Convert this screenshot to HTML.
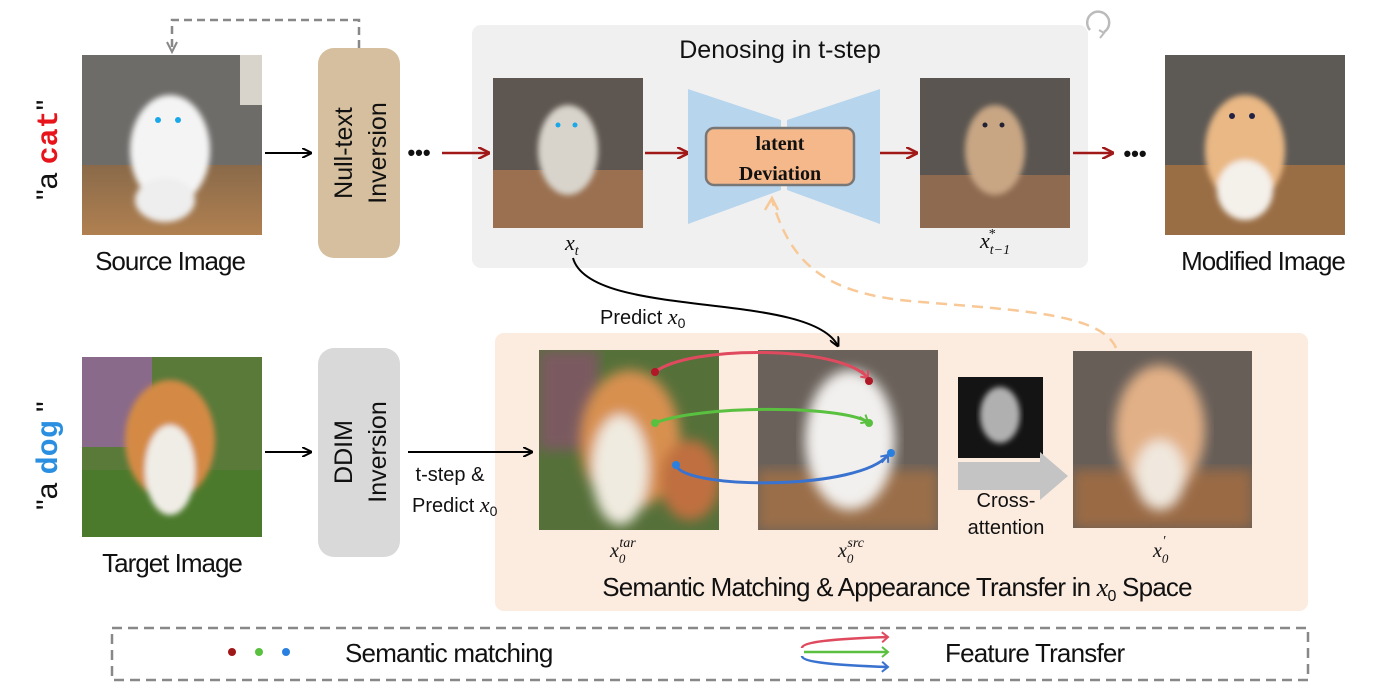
<!DOCTYPE html>
<html><head><meta charset="utf-8"><style>
html,body{margin:0;padding:0;background:#fff;}
svg{display:block;font-family:"Liberation Sans",sans-serif;}
</style></head><body>
<svg width="1381" height="695" viewBox="0 0 1381 695" xmlns="http://www.w3.org/2000/svg">
<defs>
<marker id="ab" markerWidth="10" markerHeight="10" refX="9" refY="5" orient="auto" markerUnits="userSpaceOnUse"><path d="M0,0 L10,5 L0,10" fill="none" stroke="#000" stroke-width="2"/></marker>
<marker id="ar" markerWidth="12" markerHeight="12" refX="11" refY="6" orient="auto" markerUnits="userSpaceOnUse"><path d="M0,0 L12,6 L0,12" fill="none" stroke="#a01818" stroke-width="2.5"/></marker>
<marker id="af" markerWidth="12" markerHeight="12" refX="10" refY="6" orient="auto" markerUnits="userSpaceOnUse"><path d="M0,6 L10,6 M4,1 L10,6 L4,11" fill="none" stroke="context-stroke" stroke-width="2"/></marker>
<filter id="bl"><feGaussianBlur stdDeviation="6"/></filter>
<filter id="bl2"><feGaussianBlur stdDeviation="3"/></filter>
<linearGradient id="floor" x1="0" y1="0" x2="0" y2="1"><stop offset="0" stop-color="#8a6a4a"/><stop offset="1" stop-color="#b08050"/></linearGradient>
<clipPath id="c1"><rect x="82" y="55" width="180" height="180"/></clipPath>
<clipPath id="c2"><rect x="493" y="78" width="150" height="150"/></clipPath>
<clipPath id="c3"><rect x="920" y="78" width="150" height="150"/></clipPath>
<clipPath id="c4"><rect x="1165" y="55" width="180" height="180"/></clipPath>
<clipPath id="c5"><rect x="82" y="357" width="180" height="180"/></clipPath>
<clipPath id="c6"><rect x="539" y="350" width="180" height="180"/></clipPath>
<clipPath id="c7"><rect x="758" y="350" width="180" height="180"/></clipPath>
<clipPath id="c8"><rect x="1073" y="351" width="179" height="177"/></clipPath>
</defs>

<rect x="472" y="25" width="616" height="243" rx="9" fill="#f0f0f0"/>
<text x="780" y="58" font-size="25" text-anchor="middle" fill="#111">Denosing in t-step</text>
<path d="M1090,30 A11,11 0 1 1 1104,32" fill="none" stroke="#bbb" stroke-width="2.5"/>
<path d="M1099,30 L1104,33 L1100,38" fill="none" stroke="#bbb" stroke-width="2"/>

<rect x="495" y="333" width="813" height="278" rx="9" fill="#fcebdf"/>

<text transform="translate(57,200) rotate(-90)" font-size="30" fill="#111">"a <tspan fill="#e8141c" font-weight="bold" font-family="Liberation Mono,monospace">cat</tspan>"</text>
<text transform="translate(57,510) rotate(-90)" font-size="30" fill="#111">"a <tspan fill="#2a8fe0" font-weight="bold" font-family="Liberation Mono,monospace">dog</tspan> "</text>

<g clip-path="url(#c1)">
<rect x="82" y="55" width="180" height="180" fill="#6e6c69"/>
<rect x="82" y="165" width="180" height="70" fill="url(#floor)"/>
<rect x="240" y="55" width="22" height="50" fill="#d8d4cc"/>
<g filter="url(#bl2)"><ellipse cx="170" cy="150" rx="40" ry="55" fill="#f4f4f4"/><ellipse cx="165" cy="200" rx="30" ry="22" fill="#eee"/></g>
<circle cx="158" cy="120" r="3" fill="#1aa8e8"/><circle cx="178" cy="120" r="3" fill="#1aa8e8"/>
</g>
<text x="170" y="270" font-size="26" text-anchor="middle" fill="#111" letter-spacing="-1">Source Image</text>

<line x1="265" y1="153" x2="311" y2="153" stroke="#000" stroke-width="2" marker-end="url(#ab)"/>
<rect x="318" y="48" width="82" height="210" rx="16" fill="#d6bf9e"/>
<text transform="translate(352,153) rotate(-90)" font-size="25" text-anchor="middle" fill="#111">Null-text</text>
<text transform="translate(386,153) rotate(-90)" font-size="25" text-anchor="middle" fill="#111">Inversion</text>
<path d="M359,48 L359,20 L172,20 L172,50" fill="none" stroke="#888" stroke-width="2.5" stroke-dasharray="8,5"/>
<path d="M167,42 L172,52 L177,42" fill="none" stroke="#888" stroke-width="2"/>
<text x="419" y="160" font-size="22" text-anchor="middle" fill="#111" font-weight="bold">•••</text>
<line x1="442" y1="153" x2="489" y2="153" stroke="#a01818" stroke-width="2.5" marker-end="url(#ar)"/>

<g clip-path="url(#c2)">
<rect x="493" y="78" width="150" height="150" fill="#5e5650"/>
<rect x="493" y="170" width="150" height="58" fill="#9a7050"/>
<g filter="url(#bl2)"><ellipse cx="568" cy="150" rx="30" ry="45" fill="#d8d4cc"/></g>
<circle cx="558" cy="125" r="2.5" fill="#1aa8e8"/><circle cx="575" cy="125" r="2.5" fill="#1aa8e8"/>
</g>
<text x="565" y="250" font-size="22" font-style="italic" font-family="Liberation Serif,serif" fill="#111">x<tspan font-size="14" dy="5">t</tspan></text>

<line x1="645" y1="153" x2="688" y2="153" stroke="#a01818" stroke-width="2.5" marker-end="url(#ar)"/>
<polygon points="688,89 781,120 781,190 688,224" fill="#b8d5ee"/>
<polygon points="787,120 880,89 880,224 787,190" fill="#b8d5ee"/>
<rect x="706" y="128" width="148" height="57" rx="8" fill="#f5b88a" stroke="#777" stroke-width="2.5"/>
<text x="780" y="150" font-size="20" font-weight="bold" text-anchor="middle" font-family="Liberation Serif,serif" fill="#111">latent</text>
<text x="780" y="180" font-size="20" font-weight="bold" text-anchor="middle" font-family="Liberation Serif,serif" fill="#111">Deviation</text>
<line x1="880" y1="153" x2="917" y2="153" stroke="#a01818" stroke-width="2.5" marker-end="url(#ar)"/>

<g clip-path="url(#c3)">
<rect x="920" y="78" width="150" height="150" fill="#5a5550"/>
<rect x="920" y="175" width="150" height="53" fill="#8e6a50"/>
<g filter="url(#bl2)"><ellipse cx="995" cy="150" rx="30" ry="45" fill="#c8a684"/></g>
<circle cx="985" cy="125" r="2.5" fill="#223"/><circle cx="1002" cy="125" r="2.5" fill="#223"/>
</g>
<text x="980" y="248" font-size="22" font-style="italic" font-family="Liberation Serif,serif" fill="#111">x<tspan font-size="14" dy="6">t−1</tspan><tspan font-size="14" dx="-22" dy="-16">*</tspan></text>

<line x1="1073" y1="153" x2="1113" y2="153" stroke="#a01818" stroke-width="2.5" marker-end="url(#ar)"/>
<text x="1135" y="161" font-size="22" text-anchor="middle" fill="#111" font-weight="bold">•••</text>

<g clip-path="url(#c4)">
<rect x="1165" y="55" width="180" height="180" fill="#5d5955"/>
<rect x="1165" y="165" width="180" height="70" fill="#9a6e45"/>
<g filter="url(#bl2)"><ellipse cx="1245" cy="150" rx="40" ry="55" fill="#e9b884"/><ellipse cx="1245" cy="190" rx="28" ry="30" fill="#f4f0ea"/></g>
<circle cx="1232" cy="116" r="3" fill="#224"/><circle cx="1252" cy="116" r="3" fill="#224"/>
</g>
<text x="1263" y="270" font-size="26" text-anchor="middle" fill="#111" letter-spacing="-1">Modified Image</text>

<path d="M573,258 C590,320 810,290 838,346" fill="none" stroke="#000" stroke-width="2" marker-end="url(#ab)"/>
<text x="600" y="324" font-size="20" fill="#111">Predict <tspan font-style="italic" font-family="Liberation Serif,serif" font-size="22">x</tspan><tspan font-size="14" dy="4">0</tspan></text>
<path d="M1116,348 C1100,310 1000,310 900,300 C820,290 790,260 772,200" fill="none" stroke="#f8c896" stroke-width="2.5" stroke-dasharray="11,7"/>
<path d="M765,210 L772,198 L778,210" fill="none" stroke="#f8c896" stroke-width="2.5"/>

<g clip-path="url(#c5)">
<rect x="82" y="357" width="180" height="180" fill="#5a7a3a"/>
<rect x="82" y="357" width="70" height="90" fill="#8a6a8a"/>
<rect x="82" y="470" width="180" height="67" fill="#4c7a2c"/>
<g filter="url(#bl2)"><ellipse cx="170" cy="440" rx="45" ry="60" fill="#d48a44"/><ellipse cx="170" cy="470" rx="25" ry="45" fill="#f0ede6"/></g>
</g>
<text x="172" y="572" font-size="26" text-anchor="middle" fill="#111" letter-spacing="-1">Target Image</text>
<line x1="265" y1="452" x2="311" y2="452" stroke="#000" stroke-width="2" marker-end="url(#ab)"/>
<rect x="318" y="348" width="82" height="209" rx="16" fill="#d9d9d9"/>
<text transform="translate(352,452) rotate(-90)" font-size="25" text-anchor="middle" fill="#111">DDIM</text>
<text transform="translate(386,452) rotate(-90)" font-size="25" text-anchor="middle" fill="#111">Inversion</text>
<line x1="408" y1="452" x2="532" y2="452" stroke="#000" stroke-width="2" marker-end="url(#ab)"/>
<text x="450" y="481" font-size="20" text-anchor="middle" fill="#111">t-step &amp;</text>
<text x="412" y="512" font-size="20" fill="#111">Predict <tspan font-style="italic" font-family="Liberation Serif,serif" font-size="22">x</tspan><tspan font-size="14" dy="4">0</tspan></text>

<g clip-path="url(#c6)">
<rect x="539" y="350" width="180" height="180" fill="#56703a"/>
<rect x="539" y="350" width="60" height="100" fill="#7a5a60" filter="url(#bl)"/>
<g filter="url(#bl)"><ellipse cx="630" cy="440" rx="50" ry="70" fill="#d89050"/><ellipse cx="620" cy="470" rx="28" ry="55" fill="#f0ebe0"/><ellipse cx="690" cy="480" rx="30" ry="40" fill="#c07040"/></g>
</g>
<text x="610" y="557" font-size="20" font-style="italic" font-family="Liberation Serif,serif" fill="#111">x<tspan font-size="13" dy="6">0</tspan><tspan font-size="14" dx="-6" dy="-16">tar</tspan></text>
<g clip-path="url(#c7)">
<rect x="758" y="350" width="180" height="180" fill="#6a615a"/>
<rect x="758" y="470" width="180" height="60" fill="#9a6e48" filter="url(#bl)"/>
<g filter="url(#bl)"><ellipse cx="850" cy="440" rx="45" ry="70" fill="#f2f0ee"/></g>
</g>
<text x="838" y="557" font-size="20" font-style="italic" font-family="Liberation Serif,serif" fill="#111">x<tspan font-size="13" dy="6">0</tspan><tspan font-size="14" dx="-6" dy="-16">src</tspan></text>

<path d="M655,372 C690,345 840,345 868,378" fill="none" stroke="#e04a5e" stroke-width="3" marker-end="url(#af)"/>
<path d="M655,423 C700,405 840,405 868,422" fill="none" stroke="#5ac040" stroke-width="3" marker-end="url(#af)"/>
<path d="M676,466 C690,490 860,490 888,455" fill="none" stroke="#3a72d0" stroke-width="3" marker-end="url(#af)"/>
<circle cx="655" cy="372" r="4" fill="#b01828"/><circle cx="869" cy="381" r="4" fill="#b01828"/>
<circle cx="655" cy="423" r="4" fill="#5ac040"/><circle cx="869" cy="423" r="4" fill="#5ac040"/>
<circle cx="676" cy="465" r="4" fill="#2a80e0"/><circle cx="891" cy="453" r="4" fill="#2a80e0"/>

<rect x="958" y="377" width="85" height="81" fill="#141414"/>
<ellipse cx="1000" cy="415" rx="20" ry="28" fill="#b0b0b0" filter="url(#bl2)"/>
<polygon points="958,462 1040,462 1040,452 1068,476 1040,500 1040,490 958,490" fill="#c4c4c4"/>
<text x="1006" y="507" font-size="20" text-anchor="middle" fill="#111">Cross-</text>
<text x="1006" y="534" font-size="20" text-anchor="middle" fill="#111">attention</text>

<g clip-path="url(#c8)">
<rect x="1073" y="351" width="179" height="177" fill="#675e58"/>
<rect x="1073" y="470" width="179" height="58" fill="#9a6a44" filter="url(#bl)"/>
<g filter="url(#bl)"><ellipse cx="1160" cy="430" rx="45" ry="65" fill="#e2b086"/><ellipse cx="1160" cy="475" rx="25" ry="35" fill="#f0e8de"/></g>
</g>
<text x="1153" y="557" font-size="20" font-style="italic" font-family="Liberation Serif,serif" fill="#111">x<tspan font-size="13" dy="6">0</tspan><tspan font-size="14" dx="-6" dy="-18">′</tspan></text>

<text x="897" y="596" font-size="26" text-anchor="middle" fill="#111" letter-spacing="-0.8">Semantic Matching &amp; Appearance Transfer in <tspan font-style="italic" font-family="Liberation Serif,serif">x</tspan><tspan font-size="16" dy="5">0</tspan><tspan dy="-5"> Space</tspan></text>

<rect x="112" y="628" width="1196" height="52" fill="none" stroke="#888" stroke-width="2.5" stroke-dasharray="10,6"/>
<circle cx="232" cy="652" r="4" fill="#a01818"/>
<circle cx="259" cy="652" r="4" fill="#5ac040"/>
<circle cx="286" cy="652" r="4" fill="#2a80e0"/>
<text x="345" y="662" font-size="26" fill="#111" letter-spacing="-0.8">Semantic matching</text>
<path d="M802,648 C802,640 860,638 888,637" fill="none" stroke="#e04a5e" stroke-width="2.5" marker-end="url(#af)"/>
<line x1="804" y1="652" x2="888" y2="652" stroke="#5ac040" stroke-width="2.5" marker-end="url(#af)"/>
<path d="M802,656 C802,664 860,666 888,667" fill="none" stroke="#3a72d0" stroke-width="2.5" marker-end="url(#af)"/>
<text x="945" y="662" font-size="26" fill="#111" letter-spacing="-0.8">Feature Transfer</text>
</svg>
</body></html>
